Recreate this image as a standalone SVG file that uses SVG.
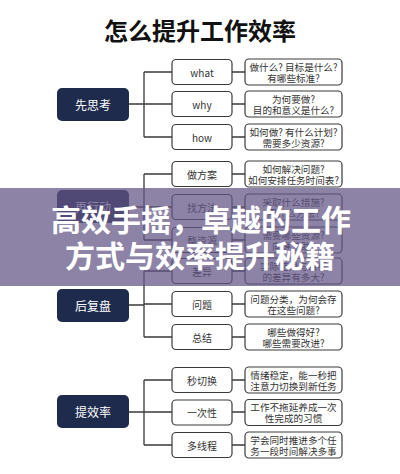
<svg xmlns="http://www.w3.org/2000/svg" width="400" height="474" viewBox="0 0 400 474">
<style>
text{font-family:"Noto Sans CJK SC","Noto Sans",sans-serif;}
.title{font-size:24px;font-weight:bold;fill:#111;text-anchor:middle;}
.p rect{fill:#1e2b4d;}
.p text{fill:#fff;font-size:12px;text-anchor:middle;dominant-baseline:central;}
.c rect,.d rect{fill:#fff;stroke:#3a3a3a;stroke-width:1.2;}
.c text{fill:#333;font-size:10px;text-anchor:middle;dominant-baseline:central;}
.d text{fill:#333;font-size:9.6px;text-anchor:middle;dominant-baseline:central;}
.conn path{fill:none;stroke:#3a3a3a;stroke-width:1.3;}
.banner text{fill:#fff;font-size:30px;font-weight:bold;text-anchor:middle;}
</style>
<rect width="400" height="474" fill="#fff"/>
<text class="title" x="200" y="40">怎么提升工作效率</text>

<g id="connectors" class="conn">
<path d="M129 104H144M144 72V137M144 72H172M144 104H172M144 137H172M232 72H245M232 104H245M232 137H245"/>
<path d="M129 207H144M144 174V240M144 174H172M144 207H172M144 240H172M232 174H245M232 207H245M232 240H245"/>
<path d="M129 305H144M144 271V337M144 271H172M144 304H172M144 337H172M232 271H245M232 304H245M232 337H245"/>
<path d="M129 412H144M144 380V445M144 380H172M144 412H172M144 445H172M232 380H245M232 412H245M232 445H245"/>
</g>

<g id="n-xsk" class="p"><rect x="57" y="88" width="72" height="33" rx="5"/><text x="93" y="104.5">先思考</text></g>
<g id="n-what" class="c"><rect x="172" y="59.5" width="60" height="25" rx="4"/><text x="202" y="72">what</text></g>
<g id="n-why" class="c"><rect x="172" y="91.5" width="60" height="25" rx="4"/><text x="202" y="104">why</text></g>
<g id="n-how" class="c"><rect x="172" y="124.5" width="60" height="25" rx="4"/><text x="202" y="137">how</text></g>
<g id="d-what" class="d"><rect x="245" y="59" width="97" height="26" rx="4"/><text x="293.5" y="66.5">做什么? 目标是什么?</text><text x="293.5" y="77.5">有哪些标准?</text></g>
<g id="d-why" class="d"><rect x="245" y="91" width="97" height="26" rx="4"/><text x="293.5" y="98.5">为何要做?</text><text x="293.5" y="109.5">目的和意义是什么?</text></g>
<g id="d-how" class="d"><rect x="245" y="124" width="97" height="26" rx="4"/><text x="293.5" y="131.5">如何做? 有什么计划?</text><text x="293.5" y="142.5">需要多少资源?</text></g>

<g id="n-zxd" class="p"><rect x="57" y="190" width="72" height="33" rx="5"/><text x="93" y="206.5">再行动</text></g>
<g id="n-zfa" class="c"><rect x="172" y="161.5" width="60" height="25" rx="4"/><text x="202" y="174">做方案</text></g>
<g id="n-zff" class="c"><rect x="172" y="194.5" width="60" height="25" rx="4"/><text x="202" y="207">找方法</text></g>
<g id="n-zzy" class="c"><rect x="172" y="227.5" width="60" height="25" rx="4"/><text x="202" y="240">整资源</text></g>
<g id="d-zfa" class="d"><rect x="245" y="161" width="97" height="26" rx="4"/><text x="293.5" y="168.5">如何解决问题?</text><text x="293.5" y="179.5">如何安排任务时间表?</text></g>
<g id="d-zff" class="d"><rect x="245" y="194" width="97" height="26" rx="4"/><text x="293.5" y="201.5">采取什么措施?</text><text x="293.5" y="212.5">用什么方法?</text></g>
<g id="d-zzy" class="d"><rect x="245" y="227" width="97" height="26" rx="4"/><text x="293.5" y="234.5">需要哪些资源?</text><text x="293.5" y="245.5">向谁求助?</text></g>

<g id="n-hfp" class="p"><rect x="57" y="289" width="72" height="33" rx="5"/><text x="93" y="305.5">后复盘</text></g>
<g id="n-cy" class="c"><rect x="172" y="258.5" width="60" height="25" rx="4"/><text x="202" y="271">差异</text></g>
<g id="n-wt" class="c"><rect x="172" y="291.5" width="60" height="25" rx="4"/><text x="202" y="304">问题</text></g>
<g id="n-zj" class="c"><rect x="172" y="324.5" width="60" height="25" rx="4"/><text x="202" y="337">总结</text></g>
<g id="d-cy" class="d"><rect x="245" y="258" width="97" height="26" rx="4"/><text x="293.5" y="265.5">实际结果与目标</text><text x="293.5" y="276.5">的差异有多大?</text></g>
<g id="d-wt" class="d"><rect x="245" y="291" width="97" height="26" rx="4"/><text x="293.5" y="298.5">问题分类，为何会存</text><text x="293.5" y="309.5">在这些问题?</text></g>
<g id="d-zj" class="d"><rect x="245" y="324" width="97" height="26" rx="4"/><text x="293.5" y="331.5">哪些做得好?</text><text x="293.5" y="342.5">哪些需要改进?</text></g>

<g id="n-txl" class="p"><rect x="57" y="395" width="72" height="33" rx="5"/><text x="93" y="411.5">提效率</text></g>
<g id="n-mqh" class="c"><rect x="172" y="367.5" width="60" height="25" rx="4"/><text x="202" y="380">秒切换</text></g>
<g id="n-ycx" class="c"><rect x="172" y="400" width="60" height="25" rx="4"/><text x="202" y="412.5">一次性</text></g>
<g id="n-dxc" class="c"><rect x="172" y="432.5" width="60" height="25" rx="4"/><text x="202" y="445">多线程</text></g>
<g id="d-mqh" class="d"><rect x="245" y="367" width="97" height="26" rx="4"/><text x="293.5" y="374.5">情绪稳定，能一秒把</text><text x="293.5" y="385.5">注意力切换到新任务</text></g>
<g id="d-ycx" class="d"><rect x="245" y="399.5" width="97" height="26" rx="4"/><text x="293.5" y="407">工作不拖延养成一次</text><text x="293.5" y="418">性完成的习惯</text></g>
<g id="d-dxc" class="d"><rect x="245" y="432" width="97" height="26" rx="4"/><text x="293.5" y="439.5">学会同时推进多个任</text><text x="293.5" y="450.5">务一段时间解决多事</text></g>

<g id="banner" class="banner">
<rect x="0" y="188" width="400" height="98" fill="#635585" fill-opacity="0.73"/>
<text x="201" y="231">高效手摇，卓越的工作</text>
<text x="200" y="267">方式与效率提升秘籍</text>
</g>
</svg>
